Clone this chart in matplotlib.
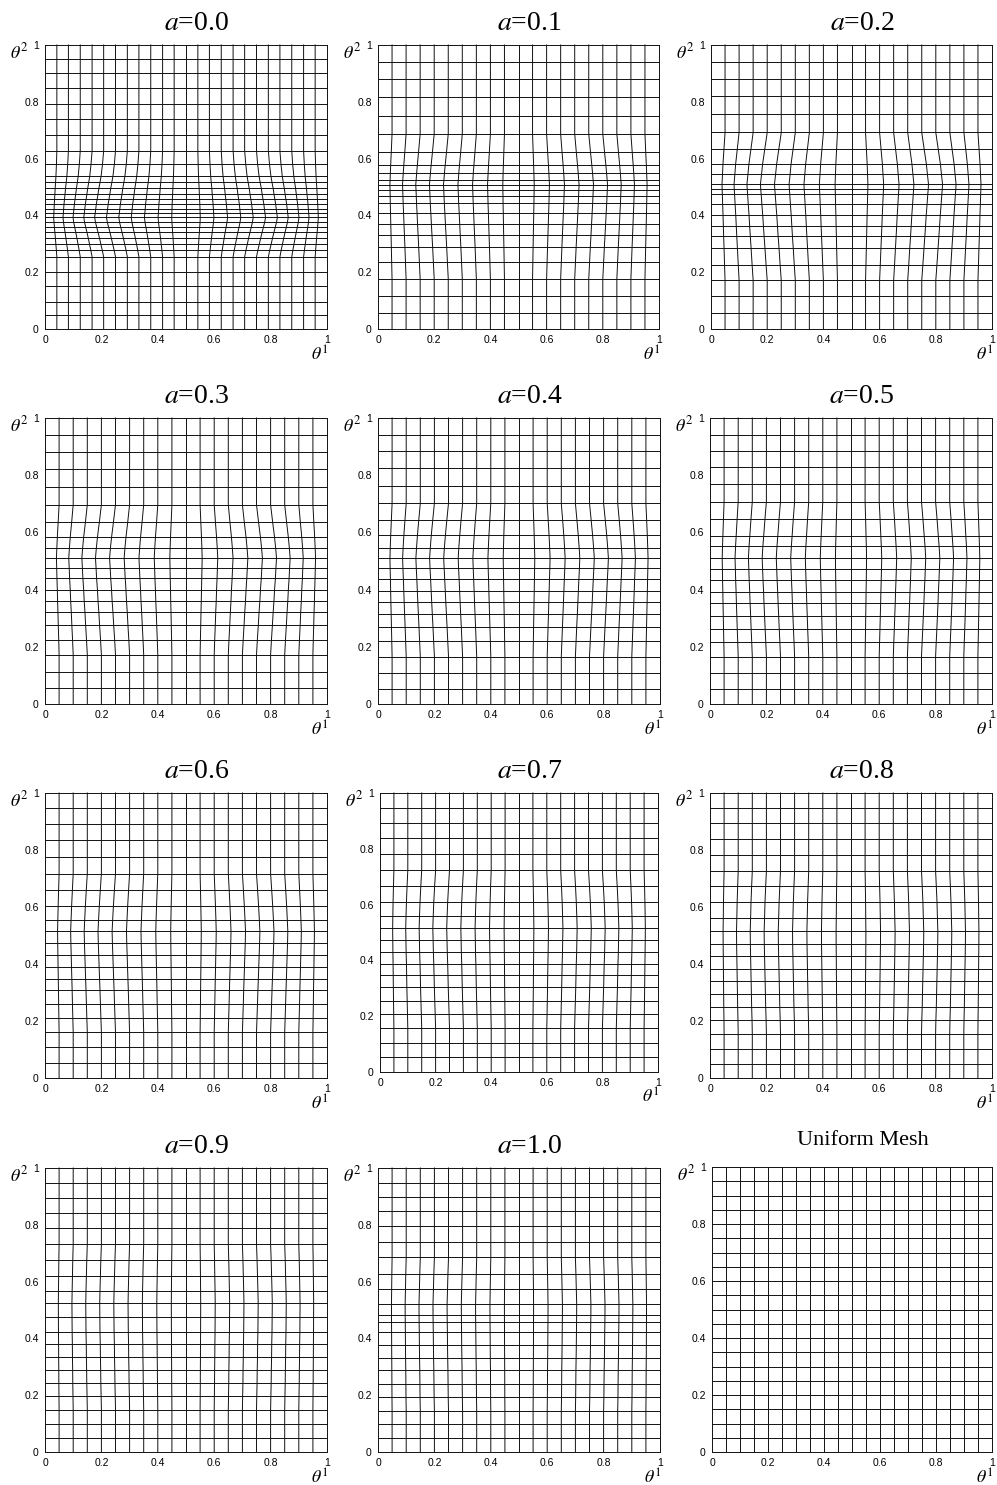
import matplotlib
matplotlib.use("Agg")
import matplotlib.pyplot as plt

plt.rcParams['mathtext.fontset'] = 'stix'

# panel titles (a values), last one is the reference mesh
titles = ["0.0", "0.1", "0.2", "0.3", "0.4", "0.5",
          "0.6", "0.7", "0.8", "0.9", "1.0", "Uniform Mesh"]

# theta^1 position of the vertical mesh lines
cols_21 = [0, 0.05, 0.1, 0.15, 0.2, 0.25, 0.3, 0.35, 0.4, 0.45, 0.5,
           0.55, 0.6, 0.65, 0.7, 0.75, 0.8, 0.85, 0.9, 0.95, 1]
cols_25 = [0, 0.042, 0.083, 0.125, 0.167, 0.208, 0.25, 0.292, 0.333, 0.375,
           0.417, 0.458, 0.5, 0.542, 0.583, 0.625, 0.667, 0.708, 0.75, 0.792,
           0.833, 0.875, 0.917, 0.958, 1]

# how much each vertical line bends (left half goes left, right half goes right)
bend_21 = [0, 0.45, 0.75, 0.92, 1.0, 1.0, 0.92, 0.8, 0.6, 0.35, 0,
           -0.35, -0.6, -0.8, -0.92, -1.0, -1.0, -0.92, -0.75, -0.45, 0]
bend_25 = [0, 0.35, 0.6, 0.8, 0.92, 1.0, 1.0, 0.95, 0.85, 0.7, 0.5, 0.27, 0,
           -0.27, -0.5, -0.7, -0.85, -0.95, -1.0, -1.0, -0.92, -0.8, -0.6, -0.35, 0]

# theta^2 of the horizontal mesh lines (bottom to top) and the sideways
# shift of the vertical lines at each of them
lev_00 = [0, 0.049, 0.096, 0.150, 0.202, 0.254, 0.278, 0.299, 0.321, 0.341,
          0.360, 0.376, 0.393, 0.408, 0.423, 0.440, 0.457, 0.475, 0.495, 0.516,
          0.539, 0.581, 0.628, 0.683, 0.739, 0.793, 0.848, 0.900, 0.951, 1.0]
sh_00 = [0, 0, 0, 0, 0, 0, 0.005, 0.010, 0.015, 0.020,
         0.025, 0.029, 0.032, 0.030, 0.028, 0.026, 0.023, 0.020, 0.017, 0.013,
         0.009, 0.004, 0, 0, 0, 0, 0, 0, 0, 0]

lev_01 = [0, 0.056, 0.115, 0.176, 0.236, 0.287, 0.332, 0.369, 0.408, 0.443,
          0.467, 0.490, 0.508, 0.525, 0.549, 0.576, 0.625, 0.687, 0.750, 0.816,
          0.879, 0.941, 1.0]
sh_01 = [0, 0, 0, 0, 0.003, 0.0055, 0.008, 0.010, 0.012, 0.014,
         0.015, 0.016, 0.017, 0.0155, 0.0135, 0.011, 0.006, 0, 0, 0,
         0, 0, 0]

lev_02 = [0, 0.056, 0.115, 0.171, 0.226, 0.285, 0.326, 0.363, 0.402, 0.440,
          0.475, 0.492, 0.510, 0.546, 0.580, 0.634, 0.692, 0.756, 0.821, 0.880,
          0.941, 1.0]
sh_02 = [0, 0, 0, 0, 0.004, 0.008, 0.011, 0.0135, 0.016, 0.019,
         0.0215, 0.023, 0.024, 0.020, 0.0165, 0.0085, 0, 0, 0, 0,
         0, 0]

lev_03 = [0, 0.055, 0.113, 0.172, 0.224, 0.277, 0.320, 0.361, 0.399, 0.440,
          0.477, 0.510, 0.545, 0.583, 0.638, 0.697, 0.758, 0.821, 0.881, 0.942, 1.0]
sh_03 = [0, 0, 0, 0, 0.003, 0.0065, 0.009, 0.012, 0.014, 0.017,
         0.019, 0.021, 0.018, 0.014, 0.007, 0, 0, 0, 0, 0, 0]

lev_04 = [0, 0.053, 0.110, 0.166, 0.221, 0.268, 0.315, 0.355, 0.396, 0.438,
          0.475, 0.510, 0.547, 0.590, 0.642, 0.702, 0.763, 0.825, 0.883, 0.942, 1.0]
sh_04 = [0, 0, 0, 0, 0.0027, 0.005, 0.0075, 0.0095, 0.0115, 0.0135,
         0.0155, 0.017, 0.0145, 0.011, 0.006, 0, 0, 0, 0, 0, 0]

lev_05 = [0, 0.051, 0.107, 0.166, 0.216, 0.263, 0.309, 0.352, 0.393, 0.434,
          0.473, 0.510, 0.551, 0.589, 0.648, 0.708, 0.769, 0.827, 0.886, 0.942, 1.0]
sh_05 = [0, 0, 0, 0, 0.0022, 0.0045, 0.0065, 0.0085, 0.010, 0.012,
         0.0135, 0.015, 0.0125, 0.0095, 0.005, 0, 0, 0, 0, 0, 0]

lev_06 = [0, 0.053, 0.108, 0.160, 0.211, 0.260, 0.308, 0.349, 0.389, 0.433,
          0.474, 0.515, 0.556, 0.602, 0.658, 0.717, 0.775, 0.834, 0.891, 0.947, 1.0]
sh_06 = [0, 0, 0, 0, 0.0018, 0.0035, 0.005, 0.0065, 0.008, 0.0095,
         0.011, 0.012, 0.010, 0.0075, 0.004, 0, 0, 0, 0, 0, 0]

lev_07 = [0, 0.052, 0.104, 0.157, 0.207, 0.256, 0.303, 0.346, 0.387, 0.429,
          0.473, 0.515, 0.560, 0.610, 0.666, 0.723, 0.781, 0.839, 0.893, 0.948, 1.0]
sh_07 = [0, 0, 0, 0, 0.0015, 0.003, 0.0045, 0.0055, 0.0065, 0.008,
         0.009, 0.010, 0.0085, 0.0065, 0.0035, 0, 0, 0, 0, 0, 0]

lev_08 = [0, 0.050, 0.102, 0.154, 0.202, 0.249, 0.295, 0.339, 0.382, 0.427,
          0.471, 0.515, 0.561, 0.616, 0.673, 0.727, 0.784, 0.839, 0.895, 0.947, 1.0]
sh_08 = [0, 0, 0, 0, 0.001, 0.0025, 0.0035, 0.0045, 0.0055, 0.0065,
         0.0075, 0.008, 0.0065, 0.005, 0.0025, 0, 0, 0, 0, 0, 0]

lev_09 = [0, 0.049, 0.098, 0.149, 0.198, 0.242, 0.287, 0.334, 0.379, 0.424,
          0.474, 0.523, 0.568, 0.621, 0.676, 0.732, 0.787, 0.842, 0.896, 0.947, 1.0]
sh_09 = [0, 0, 0, 0, 0.001, 0.002, 0.0025, 0.0035, 0.004, 0.005,
         0.0055, 0.006, 0.005, 0.0035, 0.002, 0, 0, 0, 0, 0, 0]

lev_10 = [0, 0.049, 0.098, 0.146, 0.193, 0.240, 0.287, 0.330, 0.376, 0.422,
          0.459, 0.482, 0.520, 0.573, 0.626, 0.685, 0.740, 0.795, 0.848, 0.898,
          0.948, 1.0]
sh_10 = [0, 0, 0, 0, 0.001, 0.0015, 0.002, 0.0028, 0.0035, 0.004,
         0.0045, 0.0048, 0.005, 0.0035, 0.002, 0, 0, 0, 0, 0,
         0, 0]

lev_uni = cols_21
sh_uni = [0] * 21

meshes = [
    (cols_25, bend_25, lev_00, sh_00),
    (cols_21, bend_21, lev_01, sh_01),
    (cols_21, bend_21, lev_02, sh_02),
    (cols_21, bend_21, lev_03, sh_03),
    (cols_21, bend_21, lev_04, sh_04),
    (cols_21, bend_21, lev_05, sh_05),
    (cols_21, bend_21, lev_06, sh_06),
    (cols_21, bend_21, lev_07, sh_07),
    (cols_21, bend_21, lev_08, sh_08),
    (cols_21, bend_21, lev_09, sh_09),
    (cols_21, bend_21, lev_10, sh_10),
    (cols_21, bend_21, lev_uni, sh_uni),
]

# axes boxes in pixels: left, top, right, bottom
boxes = [
    (45, 45, 327, 329), (378, 45, 659, 329), (711, 45, 992, 329),
    (45, 418, 327, 704), (378, 418, 660, 704), (710, 418, 992, 704),
    (45, 793, 327, 1078), (380, 793, 658, 1072), (710, 793, 992, 1078),
    (45, 1168, 327, 1452), (378, 1168, 660, 1452), (712, 1167, 992, 1452),
]

W, H = 997, 1485
fig = plt.figure(figsize=(W / 100, H / 100), dpi=100)

ticks = [0, 0.2, 0.4, 0.6, 0.8, 1]
tick_labels = ["0", "0.2", "0.4", "0.6", "0.8", "1"]


def draw_mesh(ax, cols, bend, levels, shifts):
    # horizontal lines
    for y, s in zip(levels, shifts):
        xs = [x - s * b for x, b in zip(cols, bend)]
        ax.plot(xs, [y] * len(xs), color='#111111', lw=0.7, clip_on=False)
    # vertical lines, bent sideways by the shift at every level
    for x, b in zip(cols, bend):
        xs = [x - s * b for s in shifts]
        ax.plot(xs, levels, color='#111111', lw=0.7, clip_on=False)


for k, (title, mesh, box) in enumerate(zip(titles, meshes, boxes)):
    l, t, r, b = box
    ax = fig.add_axes([l / W, 1 - b / H, (r - l) / W, (b - t) / H])
    draw_mesh(ax, *mesh)
    ax.set_xlim(0, 1)
    ax.set_ylim(0, 1)
    for sp in ax.spines.values():
        sp.set_visible(False)
    ax.set_xticks(ticks)
    ax.set_yticks(ticks)
    ax.set_xticklabels(tick_labels, fontfamily='Liberation Sans', fontsize=7.5)
    ax.set_yticklabels(tick_labels, fontfamily='Liberation Sans', fontsize=7.5)
    ax.tick_params(length=0, pad=4.5)

    ax.text(-0.125, 0.975, r'$\theta^2$', transform=ax.transAxes,
            ha='left', va='center', fontsize=13)
    ax.text(0.975, -0.092, r'$\theta^1$', transform=ax.transAxes,
            ha='center', va='center', fontsize=13)

    if k < 11:
        ax.text(0.537, 1.053, r'$a$=' + title, transform=ax.transAxes,
                ha='center', va='baseline', fontsize=20,
                fontfamily='Liberation Serif')
    else:
        ax.text(0.54, 1.078, title, transform=ax.transAxes,
                ha='center', va='baseline', fontsize=16,
                fontfamily='Liberation Serif')

fig.savefig("out.png", dpi=100)
